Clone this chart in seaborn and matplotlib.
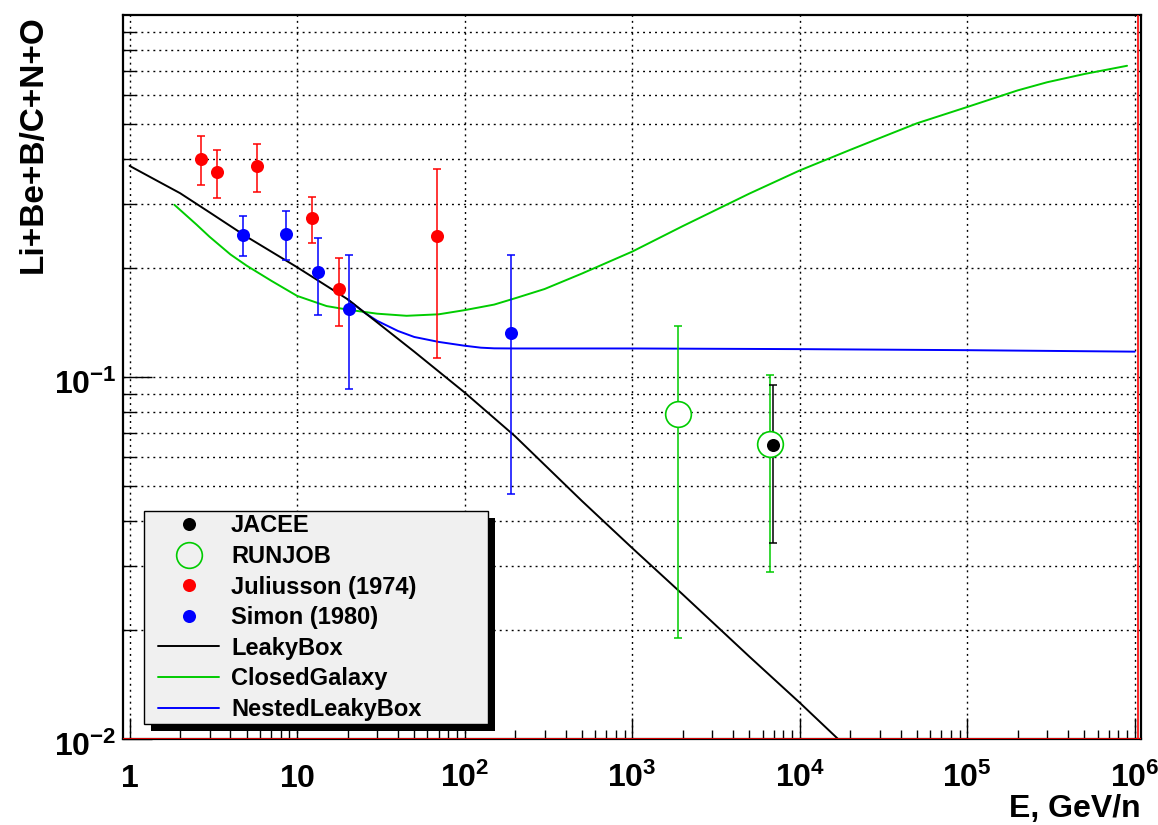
import numpy as np
import pandas as pd
import matplotlib
matplotlib.use('Agg')
import matplotlib.pyplot as plt
from matplotlib.lines import Line2D
from matplotlib.patches import Rectangle
from matplotlib.ticker import LogLocator, NullFormatter
from matplotlib.transforms import ScaledTranslation
from matplotlib.legend_handler import HandlerLine2D
import seaborn as sns

sns.set_style('ticks')
plt.rcParams['font.family'] = ['Liberation Sans', 'DejaVu Sans']
plt.rcParams['font.weight'] = 'bold'
plt.rcParams['mathtext.default'] = 'regular'
plt.rcParams['axes.unicode_minus'] = True
plt.rcParams['text.color'] = 'black'
plt.rcParams['axes.labelcolor'] = 'black'
plt.rcParams['xtick.color'] = 'black'
plt.rcParams['ytick.color'] = 'black'

# model curves, E in GeV/n
leaky_E = [1, 1.5, 2, 3, 5, 10, 20, 30, 50, 100, 200, 500, 1000, 2000, 5000, 1e4, 2e4]
leaky_val = [0.383, 0.346, 0.322, 0.285, 0.244, 0.201, 0.164, 0.1416, 0.1175,
             0.0906, 0.0686, 0.0455, 0.0337, 0.0251, 0.0169, 0.0126, 0.0093]

closed_E = [1.85, 2.5, 3, 4, 5, 7, 10, 15, 20, 30, 45, 70, 100, 150, 200, 300,
            500, 1000, 2000, 3000, 5000, 1e4, 2e4, 3e4, 5e4, 1e5, 2e5, 3e5,
            5e5, 9e5]
closed_val = [0.299, 0.264, 0.244, 0.218, 0.203, 0.1845, 0.1675, 0.157, 0.1535,
              0.1496, 0.1476, 0.149, 0.153, 0.1585, 0.1650, 0.175, 0.193, 0.222,
              0.261, 0.286, 0.321, 0.372, 0.424, 0.457, 0.502, 0.557, 0.619,
              0.652, 0.687, 0.724]

nested_E = [20, 25, 30, 40, 50, 70, 100, 125, 150, 200, 1000, 1e4, 1e5, 1e6]
nested_val = [0.164, 0.151, 0.143, 0.134, 0.129, 0.125, 0.122, 0.1205, 0.1200,
              0.1199, 0.1199, 0.1194, 0.1186, 0.1175]

# measurements (value, upper and lower end of error bar)
jul_E = [2.65, 3.32, 5.75, 12.2, 17.9, 68]
jul_val = [0.401, 0.368, 0.382, 0.275, 0.175, 0.245]
jul_hi = [0.463, 0.425, 0.440, 0.314, 0.213, 0.376]
jul_lo = [0.340, 0.312, 0.324, 0.235, 0.138, 0.113]

sim_E = [4.72, 8.53, 13.4, 20.5, 188]
sim_val = [0.247, 0.249, 0.195, 0.1545, 0.132]
sim_hi = [0.278, 0.288, 0.242, 0.217, 0.217]
sim_lo = [0.216, 0.211, 0.148, 0.0925, 0.0475]

run_E = [1870, 6610]
run_val = [0.0792, 0.0655]
run_hi = [0.138, 0.1016]
run_lo = [0.0190, 0.0290]

jac_E = [6950]
jac_val = [0.0650]
jac_hi = [0.0948]
jac_lo = [0.0348]

x_major = [1, 10, 100, 1e3, 1e4, 1e5, 1e6]
x_labels = ['$1$', '$10$', '$10^{2}$', '$10^{3}$', '$10^{4}$', '$10^{5}$', '$10^{6}$']
y_major = [0.01, 0.1]
y_labels = ['$10^{-2}$', '$10^{-1}$']
hist_xmax = 1.05e6

GREEN = '#00cc00'
RED = '#ff0000'
BLUE = '#0000ff'

curves = pd.concat([
    pd.DataFrame({'E': nested_E, 'val': nested_val, 'model': 'NestedLeakyBox'}),
    pd.DataFrame({'E': closed_E, 'val': closed_val, 'model': 'ClosedGalaxy'}),
    pd.DataFrame({'E': leaky_E, 'val': leaky_val, 'model': 'LeakyBox'}),
], ignore_index=True)

fig = plt.figure(figsize=(11.58, 8.25), dpi=100)
ax = fig.add_axes([123 / 1158, 1 - 739 / 825, 1018 / 1158, 724 / 825])
ax.set_xscale('log')
ax.set_yscale('log')

sns.lineplot(data=curves, x='E', y='val', hue='model', estimator=None, sort=False,
             palette={'NestedLeakyBox': BLUE, 'ClosedGalaxy': GREEN, 'LeakyBox': 'black'},
             linewidth=1.4, legend=False, ax=ax, zorder=2)

ax.axhline(0.01, color=RED, lw=1.2, zorder=3)
ax.axvline(hist_xmax, color=RED, lw=1.2, zorder=3)


def draw_points(E, val, hi, lo, color, face, size, ew):
    val = np.array(val)
    err = [val - np.array(lo), np.array(hi) - val]
    ax.errorbar(E, val, yerr=err, fmt='none', ecolor=color, elinewidth=1.1,
                capsize=2.9, capthick=1.1, zorder=3)
    sns.scatterplot(x=E, y=val, color=face, edgecolor=color, s=size ** 2,
                    linewidth=ew, ax=ax, zorder=4)


draw_points(jul_E, jul_val, jul_hi, jul_lo, RED, RED, 9.4, 0)
draw_points(sim_E, sim_val, sim_hi, sim_lo, BLUE, BLUE, 9.4, 0)
draw_points(run_E, run_val, run_hi, run_lo, GREEN, 'white', 18.5, 1.2)
draw_points(jac_E, jac_val, jac_hi, jac_lo, 'black', 'black', 9.4, 0)

ax.set_xlim(0.913, 1.09e6)
ax.set_ylim(0.01, 1.0)

# ticks & grid
ax.xaxis.set_minor_locator(LogLocator(base=10, subs=np.arange(2, 10)))
ax.yaxis.set_minor_locator(LogLocator(base=10, subs=np.arange(2, 10)))
ax.xaxis.set_minor_formatter(NullFormatter())
ax.yaxis.set_minor_formatter(NullFormatter())
ax.tick_params(which='both', direction='in', width=1, color='black',
               top=False, right=False, labelsize=23, labelcolor='black')
ax.tick_params(axis='x', which='major', length=15, pad=34.6)
ax.tick_params(axis='x', which='minor', length=6.5)
ax.tick_params(axis='y', which='major', length=21, pad=4.5)
ax.tick_params(axis='y', which='minor', length=9)
ax.set_xticks(x_major)
ax.set_xticklabels(x_labels)
ax.set_yticks(y_major)
ax.set_yticklabels(y_labels)
for t in ax.get_xticklabels():
    t.set_va('baseline')
    t.set_fontweight('bold')
for t in ax.get_yticklabels():
    t.set_va('baseline')
    t.set_fontweight('bold')
    t.set_transform(t.get_transform() + ScaledTranslation(0, -0.175, fig.dpi_scale_trans))

grid_kw = dict(color='black', linestyle=(0, (1.4, 2.9)), linewidth=1.0)
ax.grid(True, which='major', axis='x', **grid_kw)
ax.grid(True, which='both', axis='y', **grid_kw)
ax.set_axisbelow(True)
for s in ax.spines.values():
    s.set_linewidth(1.6)
    s.set_color('black')

ax.set_xlabel('E, GeV/n', fontsize=23, fontweight='bold', loc='right')
ax.xaxis.set_label_coords(1.0, -(817 - 739) / 724)
ax.xaxis.label.set_va('baseline')
ax.set_ylabel('Li+Be+B/C+N+O', fontsize=24, fontweight='bold', loc='top')
ax.yaxis.set_label_coords(-(123 - 42) / 1018, 1.0)
ax.yaxis.label.set_va('baseline')

# legend
handles = [
    Line2D([], [], ls='none', marker='o', color='black', markersize=9.4, mew=0),
    Line2D([], [], ls='none', marker='o', mfc='none', mec=GREEN, markersize=18.5, mew=1.2),
    Line2D([], [], ls='none', marker='o', color=RED, markersize=9.4, mew=0),
    Line2D([], [], ls='none', marker='o', color=BLUE, markersize=9.4, mew=0),
    Line2D([], [], color='black', lw=1.4),
    Line2D([], [], color=GREEN, lw=1.4),
    Line2D([], [], color=BLUE, lw=1.4),
]
labels = ['JACEE', 'RUNJOB', 'Juliusson (1974)', 'Simon (1980)',
          'LeakyBox', 'ClosedGalaxy', 'NestedLeakyBox']
leg = ax.legend(handles, labels, loc='upper left',
                bbox_to_anchor=(0.0209, 0.0239, 0.338, 0.2911), mode='expand',
                prop={'family': ['Liberation Sans'], 'weight': 'bold', 'size': 17},
                frameon=True, fancybox=False, framealpha=1, facecolor='#f0f0f0',
                edgecolor='black', borderpad=0.15, borderaxespad=0,
                handlelength=3.0, handletextpad=0.52, labelspacing=0.32,
                handler_map={Line2D: HandlerLine2D(xpad=0.45)})
leg.get_frame().set_linewidth(1.0)
leg.set_zorder(5)
for txt in leg.get_texts():
    txt.set_color('black')

fig.canvas.draw()
bb = leg.get_frame().get_window_extent()
inv = ax.transAxes.inverted()
(sx0, sy0) = inv.transform((bb.x0 + 7, bb.y0 - 7))
(sx1, sy1) = inv.transform((bb.x1 + 7, bb.y1 - 7))
ax.add_patch(Rectangle((sx0, sy0), sx1 - sx0, sy1 - sy0, transform=ax.transAxes,
                       facecolor='black', edgecolor='none', zorder=4.9, clip_on=False))

fig.savefig('out.png', dpi=100)
